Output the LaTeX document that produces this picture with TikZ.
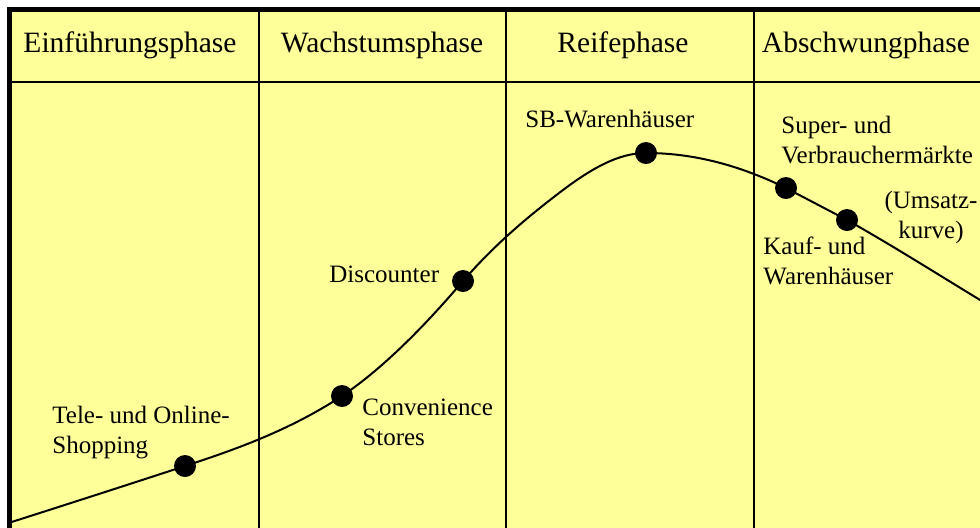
\documentclass[tikz,border=0pt]{standalone}
\usepackage{fontspec}
\setmainfont{Liberation Serif}
\usetikzlibrary{positioning}
\definecolor{phaseyellow}{RGB}{255,255,153}

\begin{document}
\begin{tikzpicture}[
  x=0.5pt, y=-0.5pt,
  every node/.style={inner sep=0pt},
  phase/.style={font=\fontsize{14.75}{17}\selectfont, anchor=base},
  lbl/.style={font=\fontsize{12.5}{15}\selectfont, anchor=base west, align=left},
  dot/.style={circle, fill=black, minimum size=11pt},
  rule/.style={line width=1.25pt},
  curve/.style={line width=1pt}
]
\useasboundingbox (0,0) rectangle (980,527);
\begin{scope}
\clip (0,0) rectangle (980,527);

% Background and frame
\fill[phaseyellow] (9.5,9.5) rectangle (990,540);
\draw[rule] (9.5,82) -- (990,82);
\foreach \x in {259,506,754}
  \draw[rule] (\x,9.5) -- (\x,540);
\draw[line width=2.5pt] (9.5,540) |- (990,9.5);

% Phase headers
\node[phase] (intro) at (130,52) {Einführungsphase};
\node[phase] (growth) at (382,52) {Wachstumsphase};
\node[phase] (mature) at (623,52) {Reifephase};
\node[phase] (decline) at (866,52) {Abschwungphase};

% Points of the curve
\coordinate (start) at (10,522.5);
\coordinate (tele) at (185,466);
\coordinate (conv) at (342,396);
\coordinate (disc) at (463,281);
\coordinate (rise) at (563,190);
\coordinate (sb) at (646,153);
\coordinate (super) at (786,188);
\coordinate (kauf) at (847,220);
\coordinate (end) at (990,306);

% Umsatzkurve
\draw[curve] (start) .. controls (68,504) and (127,485) .. (tele)
  .. controls (237,449) and (290,430) .. (conv)
  .. controls (382,369) and (423,328) .. (disc)
  .. controls (496,243) and (530,215) .. (rise)
  .. controls (591,169) and (618,153) .. (sb)
  .. controls (693,153) and (739,165) .. (super)
  .. controls (806,198.5) and (827,209.5) .. (kauf)
  .. controls (895,247) and (942,277) .. (end);

\foreach \p in {tele,conv,disc,sb,super,kauf}
  \node[dot] (\p dot) at (\p) {};

% Labels (base = last line)
\node[lbl] (tele label) at (52,453) {Tele- und Online-\\Shopping};
\node[lbl] (conv label) at (362,445) {Convenience\\Stores};
\node[lbl] (disc label) at (329,282) {Discounter};
\node[lbl] (sb label) at (525,127) {SB-Warenhäuser};
\node[lbl] (super label) at (781,163) {Super- und\\Verbrauchermärkte};
\node[lbl, align=center, anchor=base] (umsatz label) at (931,238) {(Umsatz-\\kurve)};
\node[lbl] (kauf label) at (763,284) {Kauf- und\\Warenhäuser};
\end{scope}
\end{tikzpicture}
\end{document}
